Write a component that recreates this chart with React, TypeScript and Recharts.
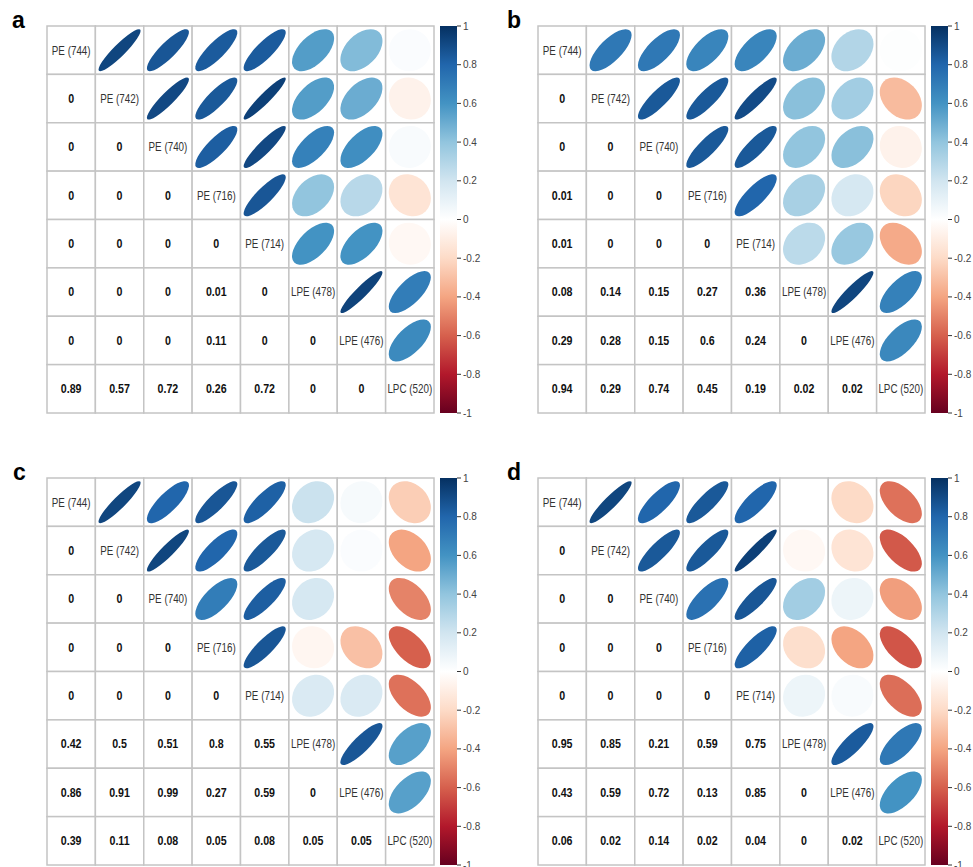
import React from "react";
import { ScatterChart, Scatter, XAxis, YAxis, BarChart, Bar } from "recharts";

// variable names on the diagonal
const labels = ["PE (744)", "PE (742)", "PE (740)", "PE (716)", "PE (714)", "LPE (478)", "LPE (476)", "LPC (520)"];

// upper triangle correlations, row i holds columns i+1..7
const corrA = [
    [0.92, 0.86, 0.84, 0.84, 0.56, 0.44, 0.02],
    [0.91, 0.85, 0.94, 0.56, 0.5, -0.07],
    [0.83, 0.91, 0.68, 0.62, 0.03],
    [0.86, 0.4, 0.28, -0.15],
    [0.6, 0.6, -0.04],
    [0.93, 0.7],
    [0.64],
];
// lower triangle p-values, row i holds columns 0..i-1
const pA = [
    ["0"],
    ["0", "0"],
    ["0", "0", "0"],
    ["0", "0", "0", "0"],
    ["0", "0", "0", "0.01", "0"],
    ["0", "0", "0", "0.11", "0", "0"],
    ["0.89", "0.57", "0.72", "0.26", "0.72", "0", "0"],
];

const corrB = [
    [0.72, 0.72, 0.66, 0.66, 0.5, 0.3, 0.01],
    [0.85, 0.85, 0.9, 0.42, 0.35, -0.32],
    [0.85, 0.85, 0.4, 0.42, -0.07],
    [0.8, 0.33, 0.18, -0.22],
    [0.27, 0.38, -0.38],
    [0.92, 0.68],
    [0.65],
];
const pB = [
    ["0"],
    ["0", "0"],
    ["0.01", "0", "0"],
    ["0.01", "0", "0", "0"],
    ["0.08", "0.14", "0.15", "0.27", "0.36"],
    ["0.29", "0.28", "0.15", "0.6", "0.24", "0"],
    ["0.94", "0.29", "0.74", "0.45", "0.19", "0.02", "0.02"],
];

const corrC = [
    [0.92, 0.8, 0.86, 0.82, 0.22, 0.04, -0.25],
    [0.92, 0.8, 0.85, 0.18, 0.02, -0.4],
    [0.7, 0.83, 0.18, 0.0, -0.5],
    [0.86, -0.05, -0.3, -0.6],
    [0.16, 0.16, -0.55],
    [0.86, 0.55],
    [0.55],
];
const pC = [
    ["0"],
    ["0", "0"],
    ["0", "0", "0"],
    ["0", "0", "0", "0"],
    ["0.42", "0.5", "0.51", "0.8", "0.55"],
    ["0.86", "0.91", "0.99", "0.27", "0.59", "0"],
    ["0.39", "0.11", "0.08", "0.05", "0.08", "0.05", "0.05"],
];

const corrD = [
    [0.92, 0.8, 0.85, 0.8, 0.0, -0.2, -0.55],
    [0.85, 0.85, 0.94, -0.04, -0.15, -0.62],
    [0.75, 0.86, 0.35, 0.08, -0.42],
    [0.82, -0.18, -0.4, -0.63],
    [0.08, 0.03, -0.56],
    [0.84, 0.72],
    [0.6],
];
const pD = [
    ["0"],
    ["0", "0"],
    ["0", "0", "0"],
    ["0", "0", "0", "0"],
    ["0.95", "0.85", "0.21", "0.59", "0.75"],
    ["0.43", "0.59", "0.72", "0.13", "0.85", "0"],
    ["0.06", "0.02", "0.14", "0.02", "0.04", "0", "0.02"],
];

const legendTicks = [-1, -0.8, -0.6, -0.4, -0.2, 0, 0.2, 0.4, 0.6, 0.8, 1];
const legendRange = [{ name: "r", v: [-1, 1] }];

// RdBu palette used by corrplot, from -1 to 1
const palette = ["#67001F", "#B2182B", "#D6604D", "#F4A582", "#FDDBC7", "#FFFFFF", "#D1E5F0", "#92C5DE", "#4393C3", "#2166AC", "#053061"];

const N = 8;
const GRID = 387;
const CELL = GRID / N;
const PAD = 2;
const FONT = "'Liberation Sans', Arial, sans-serif";

const hex = (h: string) => [1, 3, 5].map((k) => parseInt(h.slice(k, k + 2), 16));

const colorFor = (r: number) => {
    const t = ((r + 1) / 2) * (palette.length - 1);
    const i = Math.min(palette.length - 2, Math.floor(t));
    const f = t - i;
    const a = hex(palette[i]);
    const b = hex(palette[i + 1]);
    const c = a.map((v, k) => Math.round(v + (b[k] - v) * f));
    return `rgb(${c[0]},${c[1]},${c[2]})`;
};

const buildCells = (corr: number[][], p: string[][]) => {
    const cells: any[] = [];
    for (let i = 0; i < N; i++) {
        for (let j = 0; j < N; j++) {
            const base = { x: j + 0.5, y: i + 0.5 };
            if (i === j) cells.push({ ...base, kind: "label", text: labels[i] });
            else if (j > i) cells.push({ ...base, kind: "ellipse", r: corr[i][j - i - 1] });
            else cells.push({ ...base, kind: "p", text: p[i - 1][j] });
        }
    }
    return cells;
};

const CellShape = (props: any) => {
    const { cx, cy, payload } = props;
    const h = CELL / 2;
    let inner: React.ReactNode = null;
    if (payload.kind === "ellipse") {
        const s = 0.87 * CELL;
        const r = payload.r;
        inner = (
            <ellipse
                cx={cx}
                cy={cy}
                rx={(s * Math.sqrt(1 + r)) / 2}
                ry={(s * Math.sqrt(1 - r)) / 2}
                transform={`rotate(-45 ${cx} ${cy})`}
                fill={colorFor(r)}
            />
        );
    } else {
        const bold = payload.kind === "p";
        // narrow look of the original font
        inner = (
            <text
                transform={`translate(${cx} ${cy}) scale(0.82 1)`}
                textAnchor="middle"
                dominantBaseline="central"
                fontFamily={FONT}
                fontSize={bold ? 13 : 12}
                fontWeight={bold ? "bold" : "normal"}
                fill={bold ? "#111" : "#333"}
            >
                {payload.text}
            </text>
        );
    }
    return (
        <g>
            <rect x={cx - h} y={cy - h} width={CELL} height={CELL} fill="#fff" stroke="#c4c4c4" strokeWidth={1.5} />
            {inner}
        </g>
    );
};

const ColorLegend = ({ left, top }: { left: number; top: number }) => (
    <div style={{ position: "absolute", left, top: top - 6 }}>
        <BarChart width={52} height={GRID + 12} data={legendRange} margin={{ top: 6, right: 0, bottom: 6, left: 0 }} barCategoryGap={0}>
            <XAxis dataKey="name" hide />
            <YAxis
                orientation="right"
                type="number"
                domain={[-1, 1]}
                ticks={legendTicks}
                width={35}
                axisLine={false}
                tickSize={4}
                tickMargin={2}
                tickLine={{ stroke: "#333" }}
                tick={{ fill: "#444", fontSize: 10, fontFamily: FONT }}
                interval={0}
            />
            <Bar dataKey="v" fill="url(#rdbu)" isAnimationActive={false} />
        </BarChart>
    </div>
);

const Panel = ({ tag, tagX, left, top, corr, p }: { tag: string; tagX: number; left: number; top: number; corr: number[][]; p: string[][] }) => (
    <>
        <svg width={40} height={40} style={{ position: "absolute", left: tagX, top: top - 30 }}>
            <text x={0} y={32} fontFamily={FONT} fontWeight="bold" fontSize={23} fill="#000">
                {tag}
            </text>
        </svg>
        <div style={{ position: "absolute", left: left - PAD, top: top - PAD }}>
            <ScatterChart width={GRID + 2 * PAD} height={GRID + 2 * PAD} margin={{ top: PAD, right: PAD, bottom: PAD, left: PAD }}>
                <XAxis type="number" dataKey="x" domain={[0, N]} hide />
                <YAxis type="number" dataKey="y" domain={[0, N]} reversed hide />
                <Scatter data={buildCells(corr, p)} shape={CellShape} isAnimationActive={false} />
            </ScatterChart>
        </div>
        <ColorLegend left={left + GRID + 6} top={top} />
    </>
);

export default function App() {
    return (
        <div style={{ position: "absolute", left: 0, top: 0, width: 973, height: 867, background: "#fff", overflow: "hidden" }}>
            <svg width={0} height={0} style={{ position: "absolute" }}>
                <defs>
                    <linearGradient id="rdbu" x1="0" y1="0" x2="0" y2="1">
                        {palette
                            .slice()
                            .reverse()
                            .map((c, k) => (
                                <stop key={k} offset={k / (palette.length - 1)} stopColor={c} />
                            ))}
                    </linearGradient>
                </defs>
            </svg>
            <Panel tag="a" tagX={12} left={47} top={26} corr={corrA} p={pA} />
            <Panel tag="b" tagX={507} left={538} top={26} corr={corrB} p={pB} />
            <Panel tag="c" tagX={13} left={47} top={478} corr={corrC} p={pC} />
            <Panel tag="d" tagX={507} left={538} top={478} corr={corrD} p={pD} />
        </div>
    );
}
